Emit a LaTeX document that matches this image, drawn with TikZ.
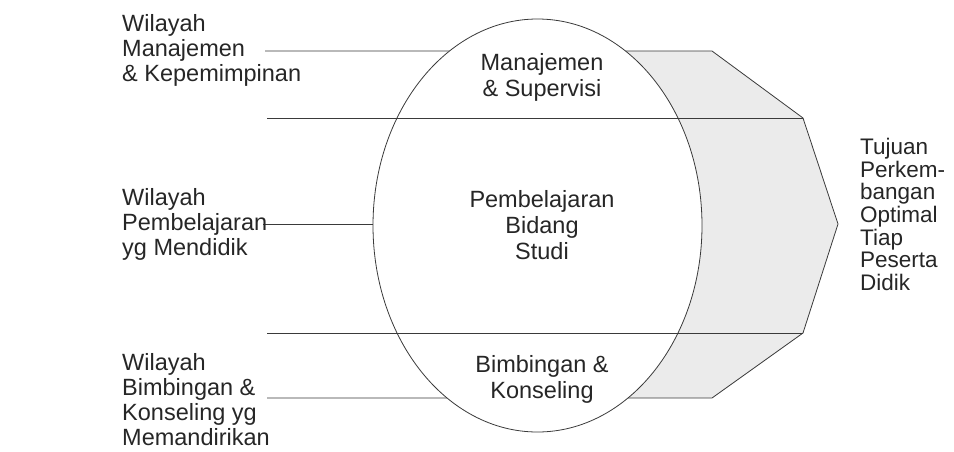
\documentclass[tikz,border=0pt]{standalone}
\usepackage{fontspec}
\setmainfont{Liberation Sans}
\usetikzlibrary{shapes.geometric}
\definecolor{ink}{HTML}{262626}
\definecolor{linec}{HTML}{3A3A3A}
\definecolor{greyfill}{HTML}{EBEBEB}
\begin{document}
\begin{tikzpicture}[x=1pt,y=-1pt,
  sep/.style={draw=linec, line width=0.8pt},
  lbl/.style={text=ink, inner sep=0pt, align=left, font=\fontsize{23.5}{25}\selectfont},
  inlbl/.style={text=ink, inner sep=0pt, align=center, font=\fontsize{23.5}{26}\selectfont},
  goal/.style={text=ink, inner sep=0pt, align=left, font=\fontsize{22.5}{22.6}\selectfont}]
\useasboundingbox (0,0) rectangle (954,451);
% coordinates
\coordinate (l1) at (265,51);
\coordinate (l2) at (267,118);
\coordinate (l3) at (263,224);
\coordinate (l4) at (267,333);
\coordinate (l5) at (267,398);
\coordinate (p1) at (712,51);
\coordinate (p2) at (803,118);
\coordinate (p3) at (838,224);
\coordinate (p4) at (803,333);
\coordinate (p5) at (712,398);
\coordinate (m1) at (540,51);
\coordinate (m5) at (540,398);
% grey arrow shape
\fill[greyfill] (m1) -- (p1) -- (p2) -- (p3) -- (p4) -- (p5) -- (m5) -- cycle;
\draw[sep] (l1) -- (p1) -- (p2) -- (p3) -- (p4) -- (p5) -- (l5);
% ellipse
\node[ellipse, draw=linec, fill=white, line width=0.8pt, minimum width=329pt, minimum height=413pt, inner sep=0pt] (E) at (537.5,225.5) {};
\draw[sep] (l2) -- (p2);
\draw[sep] (l4) -- (p4);
\draw[sep] (l3) -- (E.west |- l3);
% left labels
\node[lbl, anchor=west] (w1) at (122,50) {Wilayah\\Manajemen\\\& Kepemimpinan};
\node[lbl, anchor=west] (w2) at (122,224) {Wilayah\\Pembelajaran\\yg Mendidik};
\node[lbl, anchor=west] (w3) at (122,400) {Wilayah\\Bimbingan \&\\Konseling yg\\Memandirikan};
% inner labels
\node[inlbl] (i1) at (542,77) {Manajemen\\\& Supervisi};
\node[inlbl] (i2) at (542,225) {Pembelajaran\\Bidang\\Studi};
\node[inlbl] (i3) at (542,379) {Bimbingan \&\\Konseling};
% goal
\node[goal, anchor=west] (g) at (860,214.5) {Tujuan\\Perkem-\\bangan\\Optimal\\Tiap\\Peserta\\Didik};
\end{tikzpicture}
\end{document}
